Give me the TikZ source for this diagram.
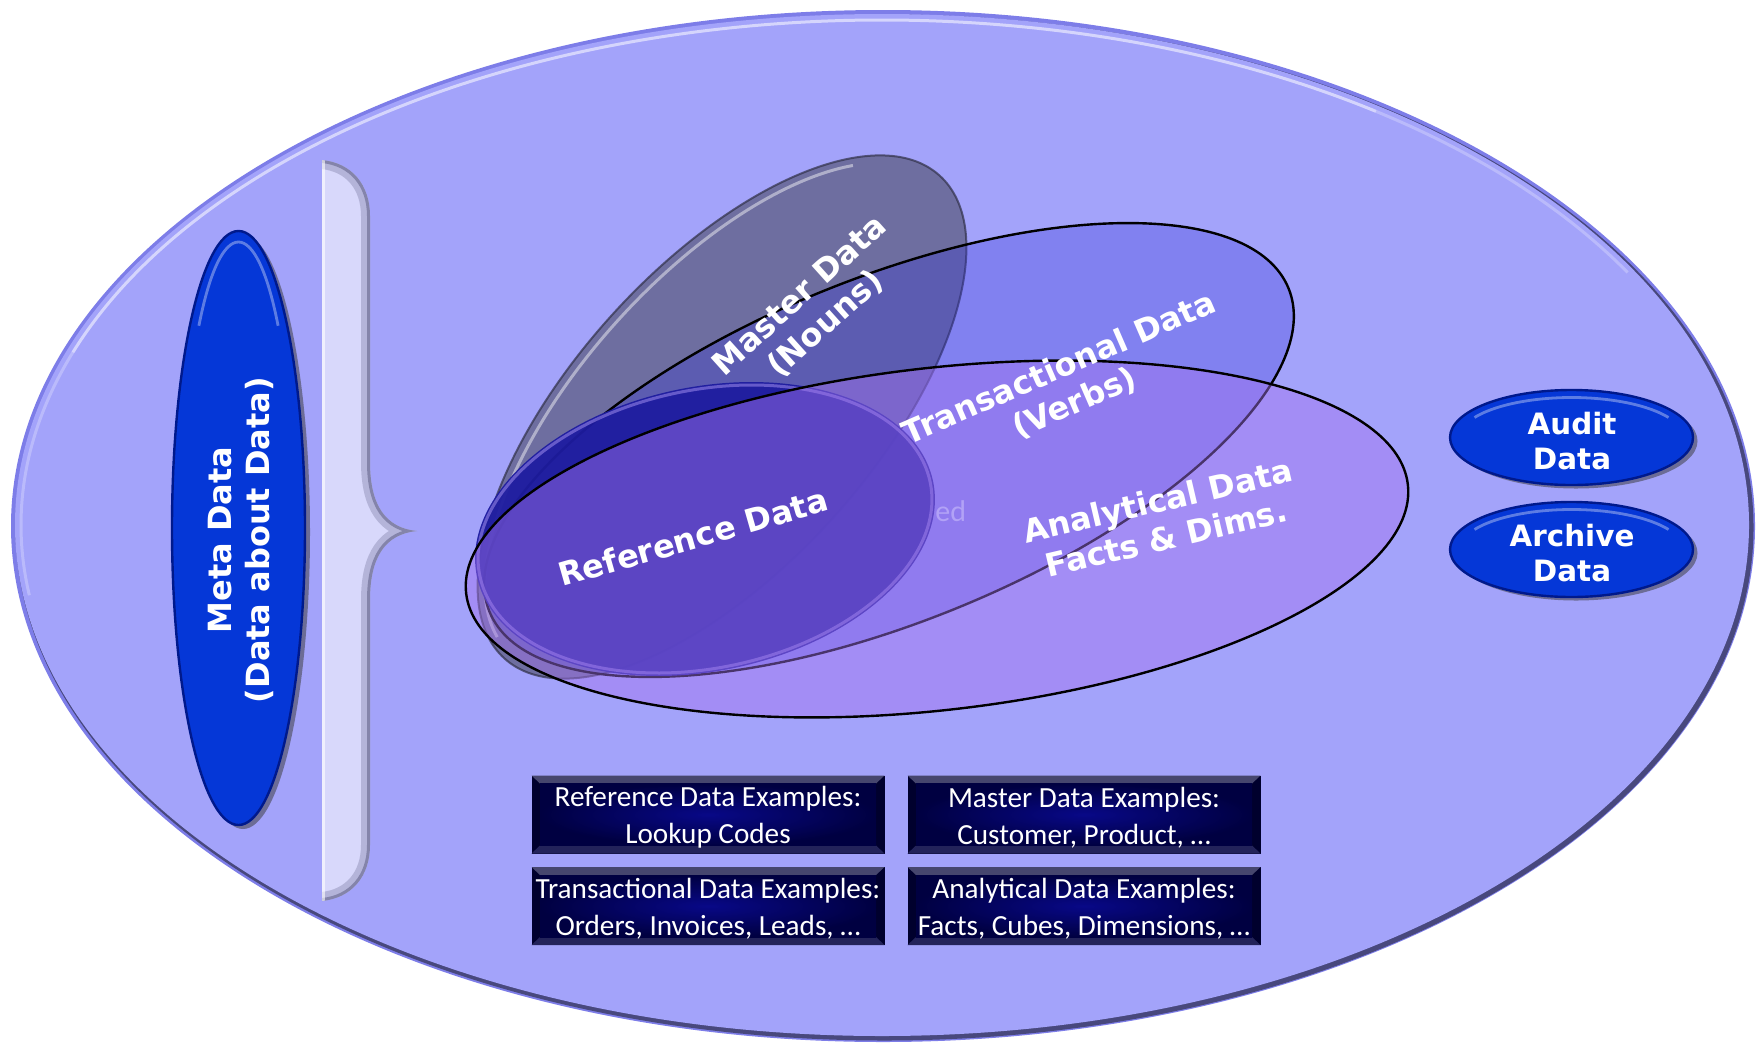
\documentclass[tikz,border=0pt]{standalone}
\usepackage{fontspec}
\setmainfont{DejaVu Sans}
\newfontfamily\carl{Carlito}
\definecolor{bgc}{RGB}{163,163,250}
\definecolor{rimc}{RGB}{125,125,232}
\definecolor{darkrim}{RGB}{72,72,125}
\definecolor{mcol}{RGB}{110,110,160}
\definecolor{tcol}{RGB}{53,53,217}
\definecolor{rcol}{RGB}{30,28,160}
\definecolor{acol}{RGB}{164,116,239}
\definecolor{rimlight}{RGB}{170,150,245}
\definecolor{bluefill}{RGB}{5,55,215}
\definecolor{blueedge}{RGB}{0,25,140}
\definecolor{shadowc}{RGB}{95,95,125}
\definecolor{bracec}{RGB}{216,216,251}
\definecolor{braceshade}{RGB}{100,100,140}
\definecolor{boxedge}{RGB}{0,0,45}
\definecolor{boxtop}{RGB}{70,70,110}
\definecolor{boxbot}{RGB}{35,35,90}
\definecolor{boxin}{RGB}{8,8,135}
\definecolor{boxout}{RGB}{0,0,65}
\definecolor{edc}{RGB}{178,162,246}
\newcommand\exampleBox[4]{%
  \fill[boxedge] ({#1-176.5},{#2-39}) rectangle ({#1+176.5},{#2+39});
  \fill[boxtop] ({#1-176.5},{#2-39}) -- ({#1+176.5},{#2-39}) -- ({#1+168},{#2-31}) -- ({#1-168},{#2-31}) -- cycle;
  \fill[boxbot] ({#1-176.5},{#2+39}) -- ({#1+176.5},{#2+39}) -- ({#1+168},{#2+31}) -- ({#1-168},{#2+31}) -- cycle;
  \shade[inner color=boxin, outer color=boxout] ({#1-168},{#2-31}) rectangle ({#1+168},{#2+31});
  \node[extext] (#3) at (#1,{#2+3}) {#4};
}
\begin{document}
\begin{tikzpicture}[x=0.5pt,y=-0.5pt,
  lbl/.style={text=white, font=\bfseries\fontsize{16pt}{19pt}\selectfont, align=center, inner sep=0pt},
  lblsm/.style={text=white, font=\bfseries\fontsize{14.7pt}{17.5pt}\selectfont, align=center, inner sep=0pt},
  extext/.style={text=white, font=\carl\fontsize{14.6pt}{18.3pt}\selectfont, align=center, inner sep=0pt},
  blackline/.style={draw=black, line width=1.2pt},
  blueoval/.style={fill=bluefill, draw=blueedge, line width=1.2pt},
  ovalshadow/.style={fill=shadowc, fill opacity=0.8},
  highlight/.style={draw=white, line width=1.4pt, opacity=0.35}
]
\useasboundingbox (0,0) rectangle (1764,1044);

% outer ellipse with rim, shadow crescent and highlight
\fill[rimc] (883,526) ellipse [x radius=872, y radius=516];
\fill[darkrim] (884.5,527.5) ellipse [x radius=869, y radius=513];
\fill[bgc] (882,525) ellipse [x radius=867, y radius=511];
\draw[white, line width=1.5pt, opacity=0.25] ([shift={(172:861 and 505)}]882,525) arc[start angle=172, end angle=200, x radius=861, y radius=505];
\draw[white, line width=1.5pt, opacity=0.55] ([shift={(200:861 and 505)}]882,525) arc[start angle=200, end angle=305, x radius=861, y radius=505];
\draw[white, line width=1.5pt, opacity=0.25] ([shift={(305:861 and 505)}]882,525) arc[start angle=305, end angle=330, x radius=861, y radius=505];

% brace
\fill[bracec] (322,160) .. controls (352,163) and (370,185) .. (370,216) -- (370,462) .. controls (370,506) and (386,528) .. (417,531) .. controls (386,534) and (370,556) .. (370,600) -- (370,845) .. controls (370,876) and (352,898) .. (322,901) -- cycle;
\begin{scope}
  \clip (322,160) .. controls (352,163) and (370,185) .. (370,216) -- (370,462) .. controls (370,506) and (386,528) .. (417,531) .. controls (386,534) and (370,556) .. (370,600) -- (370,845) .. controls (370,876) and (352,898) .. (322,901) -- cycle;
  \draw[braceshade, line width=9pt, opacity=0.3] (322,160) .. controls (352,163) and (370,185) .. (370,216) -- (370,462) .. controls (370,506) and (386,528) .. (417,531) .. controls (386,534) and (370,556) .. (370,600) -- (370,845) .. controls (370,876) and (352,898) .. (322,901);
  \draw[braceshade, line width=3pt, opacity=0.6] (322,160) .. controls (352,163) and (370,185) .. (370,216) -- (370,462) .. controls (370,506) and (386,528) .. (417,531) .. controls (386,534) and (370,556) .. (370,600) -- (370,845) .. controls (370,876) and (352,898) .. (322,901);
  \draw[white, line width=2pt, opacity=0.6] (323,160) -- (323,901);
\end{scope}

% meta data oval
\fill[ovalshadow] (243,532) ellipse [x radius=67, y radius=297];
\path[blueoval] (238.5,528) ellipse [x radius=66.5, y radius=297];
\draw[highlight] ([shift={(225:56 and 286)}]238.5,528) arc[start angle=225, end angle=315, x radius=56, y radius=286];

% audit / archive ovals
\fill[ovalshadow] (1576,441) ellipse [x radius=121.5, y radius=47.5];
\path[blueoval] (1571.5,437.5) ellipse [x radius=121.5, y radius=47.5];
\draw[highlight] ([shift={(210:112 and 40)}]1571.5,437.5) arc[start angle=210, end angle=330, x radius=112, y radius=40];
\fill[ovalshadow] (1576,553) ellipse [x radius=121.5, y radius=47.5];
\path[blueoval] (1571.5,549.5) ellipse [x radius=121.5, y radius=47.5];
\draw[highlight] ([shift={(210:112 and 40)}]1571.5,549.5) arc[start angle=210, end angle=330, x radius=112, y radius=40];

% master data
\begin{scope}[shift={(722,417)}, rotate=48]
  \fill[mcol] (0,0) ellipse [x radius=325, y radius=150];
  \draw[black!55!mcol, line width=1pt, opacity=0.7] (0,0) ellipse [x radius=325, y radius=150];
  \draw[white, opacity=0.45, line width=1.5pt] ([shift={(188:317 and 142)}]0,0) arc[start angle=188, end angle=330, x radius=317, y radius=142];
\end{scope}

% transactional data
\begin{scope}[shift={(889,450)}, rotate=22]
  \fill[tcol, fill opacity=0.3] (0,0) ellipse [x radius=431, y radius=172];
  \path[blackline] (0,0) ellipse [x radius=431, y radius=172];
\end{scope}

% reference data
\begin{scope}[shift={(705,529)}, rotate=11.8]
  \fill[rcol, fill opacity=0.95] (0,0) ellipse [x radius=233, y radius=142];
  \draw[rimlight, line width=1.5pt, opacity=0.5] (0,0) ellipse [x radius=230, y radius=139];
\end{scope}

% analytical data
\begin{scope}[shift={(937,539)}, rotate=6.6]
  \fill[acol, fill opacity=0.45] (0,0) ellipse [x radius=474, y radius=171];
  \path[blackline] (0,0) ellipse [x radius=474, y radius=171];
\end{scope}

% faint partly hidden text
\node[text=edc, font=\carl\fontsize{15pt}{18pt}\selectfont, inner sep=0pt, anchor=base west] (edtxt) at (935,521) {ed};

% labels
\node[lbl, rotate=16] (refl) at (693,537) {Reference Data};
\node[lbl, rotate=42] (mastl) at (813,310) {Master Data\\(Nouns)};
\node[lbl, rotate=23.5] (transl) at (1067,386) {Transactional Data\\(Verbs)};
\node[lbl, rotate=13.2] (anal) at (1162,519) {Analytical Data\\Facts \& Dims.};
\node[lbl, rotate=90] (metal) at (241,540) {Meta Data\\(Data about Data)};
\node[lblsm] (auditl) at (1572,441) {Audit\\Data};
\node[lblsm] (archl) at (1572,553) {Archive\\Data};

% example boxes
\exampleBox{708}{814.5}{exref}{Reference Data Examples:\\Lookup Codes}
\exampleBox{1084}{814.5}{exmast}{Master Data Examples:\\Customer, Product, \dots}
\exampleBox{708}{906}{extrans}{Transactional Data Examples:\\Orders, Invoices, Leads, \dots}
\exampleBox{1084}{906}{exanal}{Analytical Data Examples:\\Facts, Cubes, Dimensions, \dots}
\end{tikzpicture}
\end{document}
